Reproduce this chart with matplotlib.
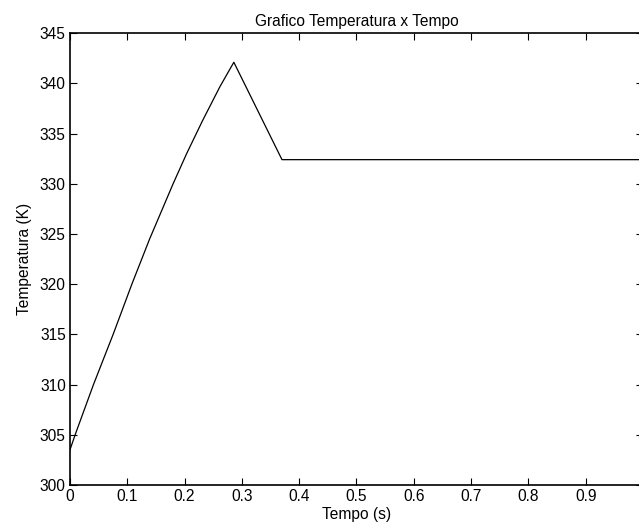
import matplotlib
matplotlib.use("Agg")
import matplotlib.pyplot as plt
import numpy as np

plt.rcParams['font.family'] = ['Liberation Sans', 'DejaVu Sans']

# Data
tempo = [0.0, 0.009, 0.041, 0.076, 0.108, 0.139, 0.180, 0.2036, 0.2315, 0.262, 0.286, 0.370, 1.0]
temperatura = [303.5, 305.0, 310.0, 315.1, 320.0, 324.5, 330.0, 333.0, 336.3, 339.7, 342.1, 332.4, 332.4]
xticks = [0, 0.1, 0.2, 0.3, 0.4, 0.5, 0.6, 0.7, 0.8, 0.9, 1.0]
xticklabels = ['0', '0.1', '0.2', '0.3', '0.4', '0.5', '0.6', '0.7', '0.8', '0.9', '']
yticks = [300, 305, 310, 315, 320, 325, 330, 335, 340, 345]

fig = plt.figure(figsize=(6.39, 5.31), dpi=100)
ax = fig.add_axes([0.1095, 0.0866, 0.8967, 0.851])
ax.plot(tempo, temperatura, color='black', linewidth=0.9)
ax.set_xlim(0, 1)
ax.set_ylim(300, 345)
ax.set_xticks(xticks)
ax.set_xticklabels(xticklabels)
ax.set_yticks(yticks)
ax.tick_params(direction='in', length=5, width=0.8, top=True, right=True,
               labelsize=11.2, pad=3, colors='black')
for s in ax.spines.values():
    s.set_linewidth(1.2)
ax.set_title('Grafico Temperatura x Tempo', fontsize=11.2, pad=5)
ax.set_xlabel('Tempo (s)', fontsize=11.2, labelpad=2)
ax.set_ylabel('Temperatura (K)', fontsize=11.2, labelpad=6)
fig.savefig('out.png', dpi=100)
